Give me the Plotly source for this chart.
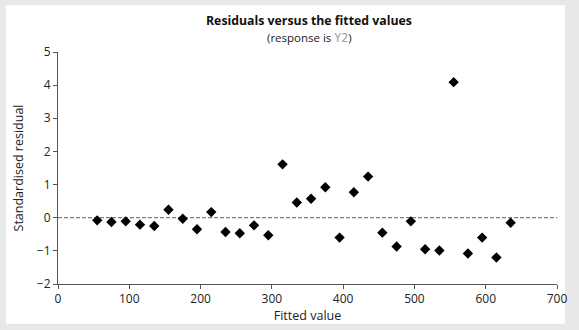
import plotly.graph_objects as go

fitted = [55, 75, 95, 115, 135, 155, 175, 195, 215, 235, 255, 275, 295, 315, 335,
          355, 375, 395, 415, 435, 455, 475, 495, 515, 535, 555, 575, 595, 615, 635]
resid = [-0.08, -0.13, -0.11, -0.21, -0.25, 0.24, -0.03, -0.35, 0.17, -0.43, -0.47, -0.23,
         -0.53, 1.61, 0.46, 0.57, 0.92, -0.60, 0.77, 1.24, -0.45, -0.87, -0.11, -0.95,
         -0.99, 4.09, -1.08, -0.60, -1.20, -0.15]
x_ticks = [0, 100, 200, 300, 400, 500, 600, 700]
y_ticks = [-2, -1, 0, 1, 2, 3, 4, 5]

FONT = "Open Sans"
L, R, T, B = 58, 13, 52, 45
W, H = 579, 330
pw, ph = W - L - R, H - T - B

def px2x(px):
    return (px - L) / pw

def py2y(py):
    return (H - B - py) / ph

fig = go.Figure()
fig.add_trace(go.Scatter(
    x=fitted, y=resid, mode="markers",
    marker=dict(symbol="diamond", size=8, color="black"),
    showlegend=False, cliponaxis=False,
))

fig.add_shape(type="rect", xref="paper", yref="paper",
              x0=px2x(5), x1=px2x(574), y0=py2y(325), y1=py2y(5),
              fillcolor="white", line=dict(width=0), layer="below")
fig.add_shape(type="line", xref="x", yref="y", x0=0, x1=700, y0=0, y1=0,
              line=dict(color="#808080", width=1.2, dash="4px,2px"), layer="below")

fig.add_annotation(xref="paper", yref="paper", x=px2x(314), y=py2y(20),
                   text="<b>Residuals versus the fitted values</b>", showarrow=False,
                   font=dict(family=FONT, size=12.3, color="#111111"), xanchor="center", yanchor="middle")
fig.add_annotation(xref="paper", yref="paper", x=px2x(314), y=py2y(37),
                   text="(response is <span style='font-family:DejaVu Sans Mono;color:#9a9a9a'>Y2</span>)",
                   showarrow=False,
                   font=dict(family=FONT, size=11.5, color="#222222"), xanchor="center", yanchor="middle")

axis_common = dict(showline=True, linecolor="#555555", linewidth=1, ticks="outside",
                   ticklen=4, tickcolor="#555555", showgrid=False, zeroline=False,
                   tickfont=dict(family=FONT, size=12, color="#222222"))

fig.update_layout(
    width=W, height=H,
    margin=dict(l=L, r=R, t=T, b=B),
    paper_bgcolor="#e8e8e8", plot_bgcolor="white",
    xaxis=dict(range=[0, 700], tickvals=x_ticks, ticktext=[str(v) for v in x_ticks],
               title=dict(text="Fitted value", font=dict(family=FONT, size=12.5, color="#222222"), standoff=2),
               **axis_common),
    yaxis=dict(range=[-2, 5], tickvals=y_ticks,
               ticktext=[("\u2212" + str(-v)) if v < 0 else str(v) for v in y_ticks],
               title=dict(text="Standardised residual", font=dict(family=FONT, size=12.5, color="#222222"), standoff=10),
               **axis_common),
)

fig.write_html("out.html")
